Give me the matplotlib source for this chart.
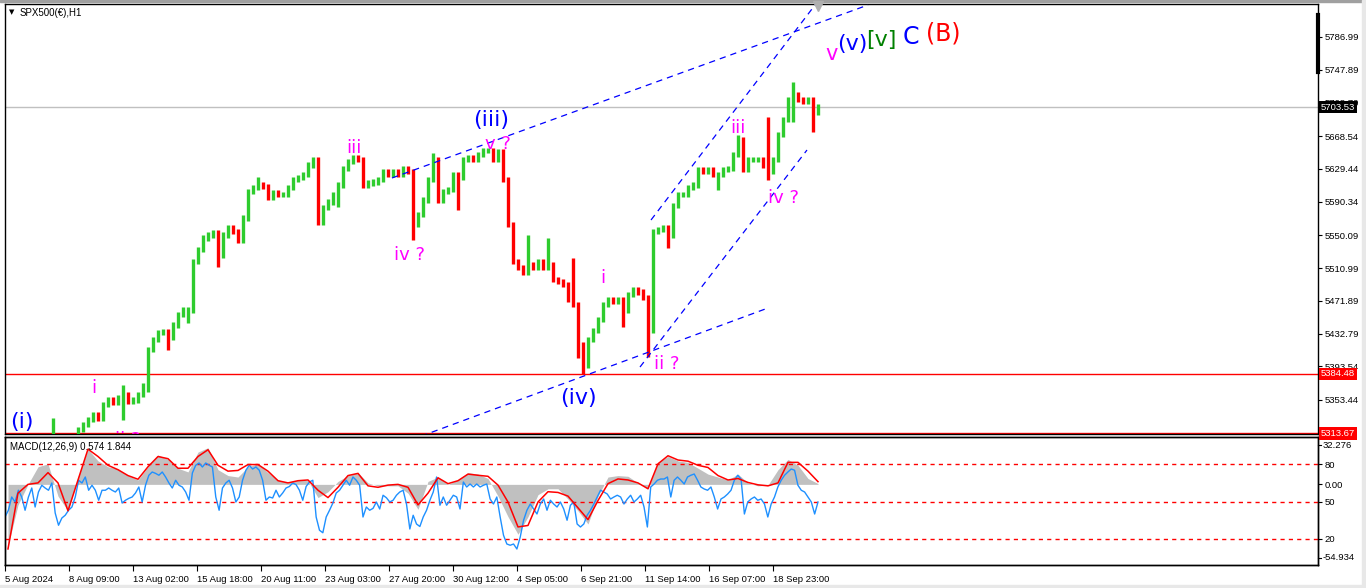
import numpy as np
import matplotlib
matplotlib.use("Agg")
import matplotlib.pyplot as plt
from matplotlib.lines import Line2D
from matplotlib.patches import Rectangle

plt.rcParams['font.family'] = ['DejaVu Sans']

# ---- datos: cierres H1 muestreados cada 5 barras ----
cierres = [
    5299.7, 5296.1, 5293.7, 5298.5, 5300.9, 5297.3, 5303.3, 5305.7, 5308.1, 5309.2, 5303.3, 5302.1, 5305.7, 5308.1,
    5317.6, 5323.6, 5329.6, 5335.5, 5331.9, 5347.5, 5353.4, 5349.9, 5355.8, 5359.4, 5351.1, 5353.4, 5359.4, 5365.4,
    5413.2, 5425.1, 5433.5, 5434.7, 5427.5, 5443.0, 5455.0, 5460.9, 5460.9, 5518.3, 5532.6, 5546.9, 5550.5, 5552.9,
    5526.6, 5550.5, 5558.9, 5554.1, 5544.5, 5570.8, 5601.9, 5606.7, 5610.2, 5609.0, 5594.7, 5600.7, 5598.3, 5598.3,
    5606.7, 5616.2, 5618.6, 5622.2, 5634.1, 5640.1, 5566.0, 5582.8, 5589.9, 5598.3, 5610.2, 5630.5, 5637.7, 5642.5,
    5640.1, 5610.2, 5612.6, 5613.8, 5616.2, 5625.8, 5622.2, 5625.8, 5622.2, 5630.5, 5625.8, 5562.5, 5574.4, 5592.3,
    5616.2, 5640.1, 5592.3, 5601.9, 5604.3, 5622.2, 5618.6, 5640.1, 5642.5, 5640.1, 5646.1, 5652.0, 5652.0, 5640.1,
    5649.7, 5616.2, 5562.5, 5518.3, 5511.1, 5506.3, 5514.7, 5511.1, 5518.3, 5511.1, 5514.7, 5496.8, 5494.4, 5490.8,
    5472.9, 5466.9, 5419.1, 5395.2, 5425.1, 5437.0, 5449.0, 5466.9, 5472.9, 5470.5, 5472.9, 5460.9, 5478.9, 5484.8,
    5482.4, 5475.3, 5437.0, 5554.1, 5556.5, 5558.9, 5550.5, 5586.3, 5598.3, 5598.3, 5607.8, 5610.2, 5628.2, 5625.8,
    5628.2, 5622.2, 5622.2, 5628.2, 5630.5, 5646.1, 5664.0, 5628.2, 5640.1, 5640.1, 5640.1, 5634.1, 5625.8, 5640.1,
    5670.0, 5687.9, 5711.8, 5717.7, 5711.8, 5709.4, 5711.8, 5697.4, 5703.53,
]

# mechas grandes (indice de barra, precio)
picos_max_idx = [9, 23, 27, 50, 61, 70, 85, 96, 104, 108, 113, 146, 152, 157]
picos_max = [5331.9, 5371.3, 5373.7, 5619.8, 5642.5, 5646.1, 5648.4, 5654.4, 5550.5, 5546.9, 5523.0, 5670.0, 5691.6, 5733.2]
picos_min_idx = [23, 32, 36, 42, 62, 66, 81, 90, 114, 115, 123, 128, 132, 142, 152, 157, 161]
picos_min = [5329.6, 5413.2, 5445.4, 5512.3, 5562.5, 5583.9, 5544.5, 5580.3, 5403.6, 5384.48, 5440.6, 5404.8,
             5535.0, 5604.2, 5616.2, 5685.5, 5673.5]

# MACD (histograma gris) y señal (roja), cada 10 barras
macd = [
    -42, -14, 0, 12, 14, -8, -18, 5, 24, 16,
    12, 10.5, 6, 3, 12, 20, 17, 11, 8.5, 22,
    25, 10, 6, 5, 12, 14, 8, 3, 1, 3,
    2.5, -9, -5, 2, 6, 8, 1, -1, -1, -1,
    -6, -17, 2, 5, 0, 3, 8, 7, 4, -8,
    -22, -34, -22, -7, -3, -3, -10, -18, -27, -8,
    5, 6, 5.5, 1, -3, 15, 19, 16, 15, 11,
    7, 5, 3, 7, 1, -1, -0.5, 10, 17, 13,
    4, 0.574,
]
senal = [
    -44, -6, 0, 1, 8, 1, -18, 3, 24, 19,
    13, 10, 6, 3.5, 12, 19, 17.5, 11, 11, 19,
    23.6, 13, 9, 9.5, 13.5, 13.5, 9, 2.5, 1, 2.5,
    3, -4, -9, -2, 6, 7.5, -1, -2, -0.5, 0,
    -2, -14, -6, 4.5, 0.5, 2.5, 7, 6.2, 5.5, -0.5,
    -12, -29, -28, -12, -5, -5.5, -8, -16, -24, -11,
    0.5, 3.7, 3, 1, -3, 14, 19.5, 16.6, 15.8, 13,
    11.5, 6, 3, 4, 1.3, -0.3, -1, 1, 15, 15,
    9, 1.844,
]

# oscilador azul (escala 0-100)
oscilador = [
    37.6, 43, 53.6, 49.6, 59, 53.6, 43, 53.6, 60.8, 45.6, 57.6, 63, 60.8, 59, 64.8, 40.8, 31, 36.8, 39, 43,
    45.6, 53.6, 67, 64.8, 69.6, 59, 63, 59, 51, 59, 59, 60.8, 59, 57.6, 60.8, 48.8, 51, 52.5, 53.6, 56.8,
    61.6, 49.6, 63, 71, 73.6, 72.5, 71, 73.6, 69.6, 64.8, 60.8, 67, 63, 61.6, 57.6, 51, 72.8, 79, 80.8, 77.6,
    80.8, 79, 77.6, 53.6, 43, 60.8, 64.8, 67, 60.8, 49.6, 53.6, 67, 75, 79, 76, 77.6, 75, 67, 51, 53.6,
    52.8, 59, 53.6, 56.8, 60.8, 62, 64.8, 63.5, 59, 51, 62, 65.6, 67, 37.6, 27, 25, 37.6, 43, 48.8, 56.8,
    59, 63, 67, 63, 69.6, 67, 63, 37.6, 45.6, 43, 44.5, 49.6,
    44, 55, 53, 49.6, 51, 55, 57.6, 59, 48, 28, 39, 32, 30, 37.6, 43, 51, 57.6, 69.6, 47, 53.6,
    47, 51, 55, 53.6, 44, 65.6, 61.6, 64, 61.6, 64, 61.6, 63, 64, 52, 48, 53.6, 37.6, 23, 16, 15,
    16, 12, 21.6, 35, 43, 48, 44, 40, 48, 52, 43, 51, 48, 45.6, 49.6, 44, 35, 47, 49.6, 32,
    29.6, 32, 39, 43, 48, 53.6, 59, 57.6, 56, 52, 53.6, 55, 53.6, 48, 52, 55, 49.6, 52, 55, 45.6,
    29.6, 61.6, 64, 67, 68, 68, 69.6, 53.6, 67, 69.6, 67, 64, 69.6, 71, 72, 67, 61.6, 60, 59, 61.6,
    53.6, 44, 52, 53.6, 56, 59, 67, 71, 68, 40, 49.6, 52, 53.6, 51, 52, 48, 37.6, 48, 53.6, 61.6,
    67, 71, 73.6, 76, 75, 63, 59, 57.6, 53.6, 49.6, 40, 49.6,
]

# ejes de precio / tiempo
ticks_precio = [5786.99, 5747.89, 5708.79, 5668.54, 5629.44, 5590.34, 5550.09,
                5510.99, 5471.89, 5432.79, 5393.54, 5353.44]
etiquetas_tiempo = ['5 Aug 2024', '8 Aug 09:00', '13 Aug 02:00', '15 Aug 18:00', '20 Aug 11:00',
                    '23 Aug 03:00', '27 Aug 20:00', '30 Aug 12:00', '4 Sep 05:00', '6 Sep 21:00',
                    '11 Sep 14:00', '16 Sep 07:00', '18 Sep 23:00']
precio_actual = 5703.53
niveles_rojos = [5384.48, 5313.67]
macd_max, macd_min = 32.276, -54.934

# lineas de tendencia (indice, precio)
tendencias = [
    [(78.4, 5300.9), (152.0, 5463.3)],
    [(76.8, 5618.6), (172.0, 5825.2)],
    [(128.6, 5568.4), (161.4, 5825.2)],
    [(126.4, 5392.8), (159.8, 5652.0)],
]

# %%
W, H = 1366, 588
fig = plt.figure(figsize=(W / 100, H / 100), dpi=100)
ax = fig.add_axes([5 / W, 1 - 434 / H, 1313 / W, 430 / H])
ax2 = fig.add_axes([5 / W, 1 - 565 / H, 1313 / W, 128 / H])

verde = '#2ECC2E'
rojo = '#FF0000'
mag = '#FF00FF'
azul = '#0000FF'
estilo_ticks = dict(length=3, width=0.8, pad=2, labelsize=6.8, labelfontfamily='Liberation Sans')

c = np.array(cierres)
x = np.arange(len(c))
o = np.r_[c[0], c[:-1]]
hi = np.maximum(o, c) + 3
lo = np.minimum(o, c) - 3
hi[picos_max_idx] = np.maximum(hi[picos_max_idx], picos_max)
lo[picos_min_idx] = np.minimum(lo[picos_min_idx], picos_min)
sube = c >= o
ax.vlines(x[sube], lo[sube], hi[sube], color=verde, lw=2.4, zorder=3)
ax.vlines(x[~sube], lo[~sube], hi[~sube], color=rojo, lw=2.4, zorder=3)

ax.axhline(precio_actual, color='#C0C0C0', lw=1, zorder=1)
for n in niveles_rojos:
    ax.axhline(n, color=rojo, lw=1, zorder=2)
for (x0, y0), (x1, y1) in tendencias:
    ax.plot([x0, x1], [y0, y1], color=azul, lw=0.9, dashes=(5, 4), zorder=4)

xmax = 262
ax.set_xlim(-0.6, xmax)
ax.set_ylim(5312.8, 5826.4)
ax.set_yticks(ticks_precio)
ax.set_yticklabels([f'{t:.2f}' for t in ticks_precio])
ax.tick_params(axis='y', left=False, labelleft=False, right=True, labelright=True, **estilo_ticks)
ax.tick_params(axis='x', bottom=False, labelbottom=False)

# ---- panel MACD ----
xm = np.arange(len(macd)) * 2
ax2.fill_between(xm, 0, macd, color='#C0C0C0', lw=0, zorder=1)
ax2.set_xlim(-0.6, xmax)
ax2.set_ylim(macd_min, macd_max)

pos_tiempo = (np.arange(len(etiquetas_tiempo)) * 64 - 3) / 5
ax2.set_xticks(pos_tiempo)
ax2.set_xticklabels(etiquetas_tiempo, ha='left')
ax2.tick_params(axis='x', direction='out', length=4, width=0.8, pad=3, labelsize=6.8,
                labelfontfamily='Liberation Sans')

axb = ax2.twinx()
axb.set_ylim(-0.8, 101.6)
xo = np.linspace(-0.6, 162, len(oscilador))
for nv in [80, 50, 20]:
    axb.axhline(nv, color=rojo, lw=1, dashes=(3, 3), zorder=1)
axb.plot(xo, oscilador, color='#1E90FF', lw=1, zorder=2)
axb.plot(xm, senal, color=rojo, lw=1.1, zorder=3, transform=ax2.transData)
axb.set_yticks([80, 50, 20])
axb.set_yticklabels(['80', '50', '20'])
axb.tick_params(axis='y', right=True, labelright=True, **estilo_ticks)
axb.set_xlim(-0.6, xmax)

# twinx devuelve los ticks de ax2 a la izquierda: los paso a la derecha
ax2.set_yticks([0])
ax2.set_yticklabels(['0.00'])
ax2.yaxis.tick_right()
ax2.tick_params(axis='y', left=False, labelleft=False, right=True, labelright=True, **estilo_ticks)

for a in (ax, ax2, axb):
    for s in a.spines.values():
        s.set_color('black')
        s.set_linewidth(1)


# ---- textos en pixeles ----
def texto(px, py, s, eje=None, **kw):
    if eje is None:
        return fig.text(px / W, 1 - py / H, s, **kw)
    return eje.text(px / W, 1 - py / H, s, transform=fig.transFigure, clip_on=True, **kw)


# max / min del MACD, como los pone MT4 (un poco hacia adentro)
texto(1323, 445, f'{macd_max:.3f}', fontsize=6.8, ha='left', va='center', family='Liberation Sans')
texto(1323, 558, f'{macd_min:.3f}', fontsize=6.8, ha='left', va='center', family='Liberation Sans')
fig.add_artist(Line2D([1318 / W, 1321 / W], [1 - 445 / H] * 2, color='black', lw=0.8))
fig.add_artist(Line2D([1318 / W, 1321 / W], [1 - 558 / H] * 2, color='black', lw=0.8))

kw = dict(ha='center', va='center', zorder=6)
texto(22, 422, '(i)', ax, color=azul, fontsize=16, **kw)
texto(94, 388, 'i', ax, color=mag, fontsize=13, **kw)
texto(115, 431, 'ii ?', ax, color=mag, fontsize=13, ha='left', va='top', zorder=6)
texto(354, 148, 'iii', ax, color=mag, fontsize=13, **kw)
texto(410, 255, 'iv ?', ax, color=mag, fontsize=13, **kw)
texto(491, 120, '(iii)', ax, color=azul, fontsize=16, **kw)
texto(498, 144, 'v ?', ax, color=mag, fontsize=13, **kw)
texto(578, 398, '(iv)', ax, color=azul, fontsize=16, **kw)
texto(603, 278, 'i', ax, color=mag, fontsize=13, **kw)
texto(667, 364, 'ii ?', ax, color=mag, fontsize=13, **kw)
texto(738, 128, 'iii', ax, color=mag, fontsize=13, **kw)
texto(784, 198, 'iv ?', ax, color=mag, fontsize=13, **kw)
texto(832, 54, 'v', ax, color=mag, fontsize=15, **kw)
texto(852, 44, '(v)', ax, color=azul, fontsize=16, **kw)
texto(881, 40, '[v]', ax, color='#008000', fontsize=16, **kw)
texto(911, 37, 'C', ax, color=azul, fontsize=17, **kw)
texto(943, 33, '(B)', ax, color=rojo, fontsize=17, **kw)

texto(12, 12, '▼', fontsize=5, ha='center', va='center')
texto(20, 13, 'SPX500(€),H1', fontsize=7, ha='left', va='center', family='Liberation Sans')
texto(10, 447, 'MACD(12,26,9) 0.574 1.844', fontsize=7, ha='left', va='center', family='Liberation Sans')

# etiquetas de precio a la derecha
caja = dict(boxstyle='square,pad=0.2', lw=0)
texto(1321, 107, f'{precio_actual:.2f}', color='white', fontsize=6.8, ha='left', va='center',
      family='Liberation Sans', bbox=dict(facecolor='black', **caja))
for n in niveles_rojos:
    texto(1321, (5831.18 - n) / 1.1944, f'{n:.2f}', color='white', fontsize=6.8, ha='left',
          va='center', family='Liberation Sans', bbox=dict(facecolor=rojo, **caja))

# detalles de la ventana
fig.add_artist(Line2D([1318 / W, 1318 / W], [1 - 15 / H, 1 - 72 / H], color='black', lw=3))
fig.add_artist(Line2D([818 / W], [1 - 6 / H], marker='v', color='#B0B0B0', markersize=7))
fig.add_artist(Rectangle((0, 1 - 2 / H), 1, 2 / H, color='#A0A0A0', transform=fig.transFigure))
fig.add_artist(Rectangle((0, 0), 1, 3 / H, color='#E8E8E8', transform=fig.transFigure))
fig.add_artist(Rectangle((1 - 4 / W, 0), 4 / W, 1, color='#E8E8E8', transform=fig.transFigure))

fig.savefig('out.png', dpi=100)
